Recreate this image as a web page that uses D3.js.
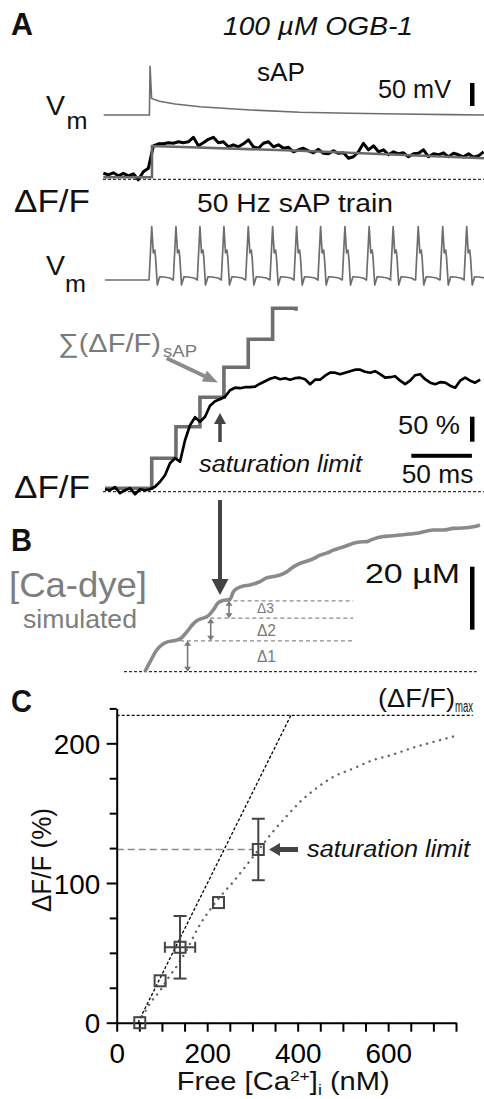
<!DOCTYPE html>
<html><head><meta charset="utf-8">
<script src="https://cdn.jsdelivr.net/npm/d3@7"></script>
<style>
html,body{margin:0;padding:0;background:#fff;}
svg{display:block;font-family:"Liberation Sans",Arial,Helvetica,sans-serif;}
</style></head><body>
<svg id="fig" width="484" height="1099"></svg>
<script>
// ================= DATA =================
// Panel A, single sAP: membrane potential [ms, mV rel. rest]
const sapVm = [[3,0],[40.8,0],[41.3,107],[42.6,36],[49,30],[62,24],[82.5,18],[124,11],[165,6],[206,3.7],[248,2.2],[289,0.9],[317,0]];
// single sAP dF/F (%), sampled from t0 every dt ms
const sapDffT0 = 2.75, sapDffDt = 4.13;
const sapDff = [12,9,13,7,12,7,11,-1,15,22,67,71,71,73,72,75,73,75,84,67,
  73,80,84,73,75,65,69,65,71,79,65,62,72,75,65,69,62,64,55,59,
  62,57,53,60,52,51,57,52,53,42,45,55,72,59,67,55,59,49,55,51,
  53,45,51,52,59,45,51,49,53,45,52,49,45,51,44,47,55];
// fitted single sAP dF/F (grey)
const sapFit = [[2.75,4],[42.9,4],[42.9,66.6],[165,57],[317,42]];

// 50 Hz sAP train
const spikeTimes = [42.7,62.7,82.5,102.3,122.4,142.5,162.3,182.1,202.2,222.2,242.0,262.7,282.9,302.7];
const apShape = [[-2.2,0],[0,116],[1.3,59],[2.5,65],[3.2,48],[4.6,-11],[6.6,7],[10,6.5],[15,4.3],[17.8,0]];
const trainDffT0 = 4.1, trainDffDt = 4.13;
const trainDff = [5,3,9,-3,3,7,-5,5,3,5,10,20,33,57,67,60,103,133,149,140,
  150,172,181,185,190,203,208,207,209,209,210,216,221,226,229,225,227,224,227,228,
  225,215,224,224,232,238,238,235,238,241,244,244,240,238,241,235,228,229,231,222,
  215,222,233,235,225,218,215,219,218,212,208,222,228,222,218,224];
// linear summation of single sAP responses (grey staircase)
const sumTimes  = [4.1,42.7,62.7,82.5,102.3,122.4,142.5,161.8];
const sumLevels = [6.8,66.8,130,188.8,248.8,304.8,366.8,362];

// Panel B: simulated [Ca-dye] (uM) vs time (ms)
const caDye = [[37.1,0],[41.3,3.1],[46.8,6.9],[52.0,8.8],[55.1,9.4],[60.5,9.8],[66.0,10.4],[71.6,12.6],
  [76.8,15.1],[80.9,16.4],[85.3,17.0],[89.2,17.7],[93.5,19.6],[97.4,21.8],[100.7,22.5],[107.3,23.0],
  [110.0,25.3],[113.9,26.6],[118.3,27.2],[123.8,27.5],[128.8,28.1],[132.1,28.6],[137.0,29.7],[143.1,30.2],
  [148.6,30.7],[154.1,31.7],[159.3,33.2],[165.1,34.4],[170.9,35.1],[175.8,35.8],[181.6,37.0],[187.4,37.7],
  [192.6,38.6],[198.1,39.3],[203.1,39.9],[209.1,40.8],[214.6,41.2],[220.2,41.3],[225.4,42.1],[233.9,42.9],
  [239.4,43.1],[247.7,43.4],[255.9,43.7],[264.2,44.1],[270.0,44.7],[275.1,45.0],[283.1,45.0],[291.6,45.5],
  [299.7,45.6],[308.2,46.0],[313.7,46.6]];
const deltaLevels = [9.8,17.0,22.5];
const deltaStarts = [66.0,85.3,104.5];
const deltaEnd = 209;
const deltaNames = ["\u03941","\u03942","\u03943"];

// Panel C: dF/F vs free [Ca2+]i
const caFree = [51,96,140,225,313];
const dffPct = [0,30,54,86,124];
const dffErr = [0,0,22.4,0,22];
const caErr  = [0,0,33.5,0,0];
const linFit = [[47,0],[385,220]];
const satCurve = [[50,0],[74,14],[96,23],[114,32],[136,42],[158,54],[180,68],[202,79],[228,90],[258,101],
  [302,119],[324,128],[346,137],[376,148],[405,158],[442,168],[479,176],[523,182],[567,188],[611,192],
  [656,197],[700,201],[745,205]];
const dffMax = 220;
const satLimit = 124;
const xTickValsC = [0,50,100,150,200,250,300,350,400,450,500,550,600,650,700,750];
const xTickLabelsC = [0,200,400,600];
const yTickValsC = [0,25,50,75,100,125,150,175,200,225];
const yTickLabelsC = [0,100,200];

// ================= DRAWING =================
const svg = d3.select('#fig');
function label(x,y,str,size,opt={}){
  const t = svg.append('text').attr('x',x).attr('y',y).attr('font-size',size)
    .attr('fill',opt.fill||'#111').text(str);
  if(opt.len) t.attr('textLength',opt.len).attr('lengthAdjust','spacingAndGlyphs');
  if(opt.italic) t.attr('font-style','italic');
  if(opt.bold) t.attr('font-weight','bold');
  if(opt.anchor) t.attr('text-anchor',opt.anchor);
  return t;
}
function arrow(x1,y1,x2,y2,color,sw,hl,hw){
  const dx=x2-x1, dy=y2-y1, L=Math.hypot(dx,dy), ux=dx/L, uy=dy/L;
  const bx=x2-ux*hl, by=y2-uy*hl, px=-uy, py=ux;
  svg.append('line').attr('x1',x1).attr('y1',y1).attr('x2',bx+ux).attr('y2',by+uy)
    .attr('stroke',color).attr('stroke-width',sw);
  svg.append('polygon').attr('fill',color)
    .attr('points',[[x2,y2],[bx+px*hw/2,by+py*hw/2],[bx-px*hw/2,by-py*hw/2]].map(p=>p.join(',')).join(' '));
}
function dblArrow(x,y1,y2,color){
  svg.append('line').attr('x1',x).attr('x2',x).attr('y1',y1+4).attr('y2',y2-4)
    .attr('stroke',color).attr('stroke-width',1.6);
  svg.append('polygon').attr('fill',color).attr('points',`${x},${y1} ${x-3.5},${y1+5} ${x+3.5},${y1+5}`);
  svg.append('polygon').attr('fill',color).attr('points',`${x},${y2} ${x-3.5},${y2-5} ${x+3.5},${y2-5}`);
}
function hdash(x1,x2,y,color,sw,dash){
  svg.append('line').attr('x1',x1).attr('x2',x2).attr('y1',y).attr('y2',y)
    .attr('stroke',color).attr('stroke-width',sw).attr('stroke-dasharray',dash);
}

// shared time scale (ms) for panel A/B
const tX = d3.scaleLinear().domain([0,317]).range([100,484]);
const vmTop = d3.scaleLinear().domain([0,50]).range([115,92]);
const dffTop = d3.scaleLinear().domain([0,100]).range([179.3,129.3]);
const vmTrain = d3.scaleLinear().domain([0,50]).range([280,257]);
const dffTrain = d3.scaleLinear().domain([0,100]).range([491.7,441.7]);
const caY = d3.scaleLinear().domain([0,20]).range([671.7,608.7]);

// ---- Panel A labels ----
label(11,35,'A',31,{bold:true,len:22});
label(223,35,'100 \u00b5M OGB-1',26,{italic:true,len:190});
label(257,80.7,'sAP',25,{len:48});
label(378,98,'50 mV',26,{len:73});
svg.append('rect').attr('x',470).attr('y',83).attr('width',4.5).attr('height',vmTop(0)-vmTop(50)).attr('fill','#000');
label(46,115,'V',28,{len:19});
label(66.5,128.5,'m',23,{len:21});

// single sAP Vm
const lineT = d3.line().x(d=>tX(d[0]));
svg.append('path').attr('d',lineT.y(d=>vmTop(d[1]))(sapVm))
  .attr('fill','none').attr('stroke','#6e6e6e').attr('stroke-width',1.6);

// single sAP dF/F
hdash(103,484,dffTop(0),'#000',1,'3,2');
svg.append('path').attr('d',d3.line().x((d,i)=>tX(sapDffT0+i*sapDffDt)).y(d=>dffTop(d))(sapDff))
  .attr('fill','none').attr('stroke','#000').attr('stroke-width',3).attr('stroke-linejoin','round');
svg.append('path').attr('d',d3.line().x(d=>tX(d[0])).y(d=>dffTop(d[1]))(sapFit))
  .attr('fill','none').attr('stroke','#6a6a6a').attr('stroke-width',2.6);

label(14,212,'\u0394F/F',32,{len:76});
label(197,211.7,'50 Hz sAP train',26,{len:196});

// train Vm
label(46,275,'V',28,{len:19});
label(65,292,'m',23,{len:21});
const trainVm = [[4.1,0]];
spikeTimes.forEach(s=>apShape.forEach(p=>trainVm.push([s+p[0],p[1]])));
svg.append('path').attr('d',d3.line().x(d=>tX(d[0])).y(d=>vmTrain(d[1]))(trainVm))
  .attr('fill','none').attr('stroke','#6e6e6e').attr('stroke-width',1.7).attr('stroke-linejoin','round');

// train dF/F
hdash(103,484,dffTrain(0),'#000',1,'3,2');
svg.append('path').attr('d',d3.line().x(d=>tX(d[0])).y(d=>dffTrain(d[1])).curve(d3.curveStepAfter)(sumTimes.map((t,i)=>[t,sumLevels[i]])))
  .attr('fill','none').attr('stroke','#6e6e6e').attr('stroke-width',3.6).attr('stroke-linejoin','miter');
svg.append('path').attr('d',d3.line().x((d,i)=>tX(trainDffT0+i*trainDffDt)).y(d=>dffTrain(d))(trainDff))
  .attr('fill','none').attr('stroke','#000').attr('stroke-width',2.7).attr('stroke-linejoin','round');

label(58,352,'\u2211(\u0394F/F)',26,{fill:'#7a7a7a',len:103});
label(163,357,'sAP',17,{fill:'#7a7a7a',len:34});
arrow(166.7,358.3,218,382.5,'#8c8c8c',4,15,12);
arrow(220,442,220,413,'#444',3.5,11,12);
label(199,471.7,'saturation limit',23,{italic:true,len:163});
label(398,434,'50 %',26,{len:62});
svg.append('rect').attr('x',470).attr('y',416.7).attr('width',4.5).attr('height',dffTrain(0)-dffTrain(50)).attr('fill','#000');
svg.append('rect').attr('x',tX(257)).attr('y',453.8).attr('width',tX(307)-tX(257)).attr('height',4).attr('fill','#000');
label(401.7,483.3,'50 ms',26,{len:71.6});
label(14,498,'\u0394F/F',32,{len:76});

// big arrow A -> B
arrow(220,500,220,595,'#444',4,16,17);

// ---- Panel B ----
label(11,551,'B',31,{bold:true,len:21});
label(9,597,'[Ca-dye]',35,{fill:'#7d7d7d',len:138});
label(23,628,'simulated',26,{fill:'#7d7d7d',len:114});
deltaLevels.forEach((lv,i)=>hdash(tX(deltaStarts[i]),tX(deltaEnd),caY(lv),'#8a8a8a',1.1,'4,3'));
hdash(124,476.7,caY(0),'#000',1,'3,2');
svg.append('path').attr('d',d3.line().x(d=>tX(d[0])).y(d=>caY(d[1])).curve(d3.curveMonotoneX)(caDye))
  .attr('fill','none').attr('stroke','#8a8a8a').attr('stroke-width',3.6).attr('stroke-linejoin','round');
const dArrowT = [72.3,91.4,106.5];
const lvAll = [0].concat(deltaLevels);
dArrowT.forEach((t,i)=>dblArrow(tX(t),caY(lvAll[i+1]),caY(lvAll[i]),'#7a7a7a'));
const dLabelY = [3.2,11.3,18.5];
deltaNames.forEach((n,i)=>label(tX(129.6),caY(dLabelY[i]),n,i===2?15:17,{fill:'#7a7a7a',len:i===2?17:19}));
label(365,583.3,'20 \u00b5M',28,{len:95});
svg.append('rect').attr('x',470).attr('y',566.7).attr('width',4.5).attr('height',caY(0)-caY(20)).attr('fill','#000');

// ---- Panel C ----
const xC = d3.scaleLinear().domain([0,750]).range([116.7,456]);
const yC = d3.scaleLinear().domain([0,225]).range([1022.7,708.4]);
label(11,711.7,'C',31,{bold:true,len:21});

// reference lines
hdash(xC(0),xC(787),yC(dffMax),'#000',1.1,'3,2');
label(378,706.7,'(\u0394F/F)',26,{len:77});
label(455,711.7,'max',16,{len:18});
hdash(xC(0),xC(caFree[4])-5.5,yC(satLimit),'#8a8a8a',1.5,'7,4');

// fits
svg.append('path').attr('d',d3.line().x(d=>xC(d[0])).y(d=>yC(d[1]))(linFit))
  .attr('fill','none').attr('stroke','#000').attr('stroke-width',1.3).attr('stroke-dasharray','3,2');
svg.append('path').attr('d',d3.line().x(d=>xC(d[0])).y(d=>yC(d[1])).curve(d3.curveMonotoneX)(satCurve))
  .attr('fill','none').attr('stroke','#666').attr('stroke-width',2.4).attr('stroke-dasharray','0.1,6.6').attr('stroke-linecap','round');

// axes
const gx = svg.append('g').attr('transform',`translate(0,${yC(0)})`)
  .call(d3.axisBottom(xC).tickValues(xTickValsC).tickSize(9).tickSizeOuter(0)
    .tickFormat(d=>xTickLabelsC.includes(d)?d:''));
const gy = svg.append('g').attr('transform',`translate(${xC(0)},0)`)
  .call(d3.axisLeft(yC).tickValues(yTickValsC).tickSize(10).tickSizeOuter(0)
    .tickFormat(d=>yTickLabelsC.includes(d)?d:''));
[gx,gy].forEach(g=>{
  g.select('.domain').attr('stroke','#000').attr('stroke-width',2);
  g.selectAll('.tick line').attr('stroke','#000').attr('stroke-width',2);
  g.selectAll('.tick text').attr('font-size',28).attr('fill','#000')
    .attr('font-family','"Liberation Sans",Arial,sans-serif')
    .each(function(d){const s=String(d); if(s.length && (xTickLabelsC.includes(d)||yTickLabelsC.includes(d))) d3.select(this).attr('textLength',15.5*s.length).attr('lengthAdjust','spacingAndGlyphs');});
});
gx.selectAll('.tick text').attr('y',20);
gy.selectAll('.tick text').attr('x',-16.5).attr('dy','0.36em');
gy.selectAll('.tick line').filter(d=>!yTickLabelsC.includes(d)).attr('x2',-7);

// error bars and points
const ptColor = '#444';
caFree.forEach((c,i)=>{
  if(dffErr[i]>0){
    const x=xC(c);
    svg.append('line').attr('x1',x).attr('x2',x).attr('y1',yC(dffPct[i]+dffErr[i])).attr('y2',yC(dffPct[i]-dffErr[i])).attr('stroke',ptColor).attr('stroke-width',2);
    [1,-1].forEach(s=>svg.append('line').attr('x1',x-6.5).attr('x2',x+6.5).attr('y1',yC(dffPct[i]+s*dffErr[i])).attr('y2',yC(dffPct[i]+s*dffErr[i])).attr('stroke',ptColor).attr('stroke-width',2));
  }
  if(caErr[i]>0){
    const y=yC(dffPct[i]);
    svg.append('line').attr('x1',xC(c-caErr[i])).attr('x2',xC(c+caErr[i])).attr('y1',y).attr('y2',y).attr('stroke',ptColor).attr('stroke-width',2);
    [1,-1].forEach(s=>svg.append('line').attr('x1',xC(c+s*caErr[i])).attr('x2',xC(c+s*caErr[i])).attr('y1',y-5.5).attr('y2',y+5.5).attr('stroke',ptColor).attr('stroke-width',2));
  }
});
svg.selectAll('rect.pt').data(caFree).enter().append('rect').attr('class','pt')
  .attr('x',d=>xC(d)-5.5).attr('y',(d,i)=>yC(dffPct[i])-5.5).attr('width',11).attr('height',11)
  .attr('fill','none').attr('stroke',ptColor).attr('stroke-width',2);

arrow(298,yC(satLimit),269,yC(satLimit),'#444',5,11,13);
label(307,857,'saturation limit',23,{italic:true,len:163});

// axis titles
svg.append('text').attr('transform','translate(51,860) rotate(-90)').attr('text-anchor','middle')
  .attr('font-size',27).attr('fill','#111').attr('textLength',104).attr('lengthAdjust','spacingAndGlyphs').text('\u0394F/F (%)');
const xt = svg.append('text').attr('x',176.7).attr('y',1090).attr('font-size',25).attr('fill','#111')
  .attr('textLength',213).attr('lengthAdjust','spacingAndGlyphs');
xt.append('tspan').text('Free [Ca');
xt.append('tspan').attr('dy',-9).attr('font-size',15).text('2+');
xt.append('tspan').attr('dy',9).text(']');
xt.append('tspan').attr('dy',5).attr('font-size',15).text('i');
xt.append('tspan').attr('dy',-5).text(' (nM)');
</script></body></html>
